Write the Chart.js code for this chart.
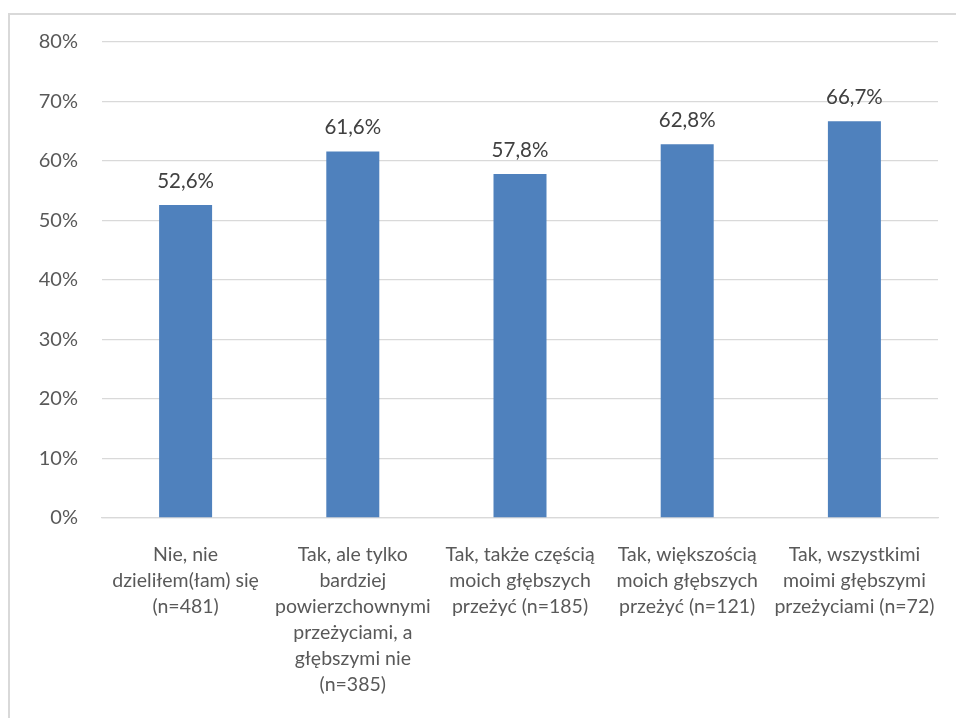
<!DOCTYPE html>
<html>
<head>
<meta charset="utf-8">
<script src="https://cdn.jsdelivr.net/npm/chart.js@4/dist/chart.umd.min.js"></script>
<style>
html,body{margin:0;padding:0;background:#fff;}
#wrap{position:relative;width:956px;height:718px;}
canvas{display:block;}
</style>
</head>
<body>
<div id="wrap"><canvas id="c" width="956" height="718"></canvas></div>
<script>
const categories = [
  ["Nie, nie", "dzieliłem(łam) się", "(n=481)"],
  ["Tak, ale tylko", "bardziej", "powierzchownymi", "przeżyciami, a", "głębszymi nie", "(n=385)"],
  ["Tak, także częścią", "moich głębszych", "przeżyć (n=185)"],
  ["Tak, większością", "moich głębszych", "przeżyć (n=121)"],
  ["Tak, wszystkimi", "moimi głębszymi", "przeżyciami (n=72)"]
];
const values = [52.6, 61.6, 57.8, 62.8, 66.7];
const yMin = 0, yMax = 80, yStep = 10;

const FONT = "Lato, 'Open Sans', sans-serif";
const TEXT = "#595959";

const borderPlugin = {
  id: 'frame',
  beforeDraw(chart) {
    const ctx = chart.ctx;
    ctx.save();
    ctx.fillStyle = '#fff';
    ctx.fillRect(0, 0, chart.width, chart.height);
    ctx.strokeStyle = '#d9d9d9';
    ctx.lineWidth = 2;
    ctx.strokeRect(9, 14, 1200, 1200);
    ctx.restore();
  }
};
const labelPlugin = {
  id: 'vals',
  afterDatasetsDraw(chart) {
    const ctx = chart.ctx;
    const meta = chart.getDatasetMeta(0);
    ctx.save();
    ctx.font = "20.5px " + FONT;
    ctx.fillStyle = "#404040";
    ctx.textAlign = 'center';
    ctx.textBaseline = 'middle';
    meta.data.forEach((bar, i) => {
      ctx.fillText(values[i].toFixed(1).replace('.', ',') + '%', bar.x, bar.y - 24);
    });
    ctx.restore();
  }
};

new Chart(document.getElementById('c'), {
  type: 'bar',
  data: {
    labels: categories,
    datasets: [{
      data: values,
      backgroundColor: '#4f81bd',
      borderWidth: 0,
      barPercentage: 0.317,
      categoryPercentage: 1
    }]
  },
  options: {
    responsive: false,
    animation: false,
    layout: { padding: { top: 42, right: 18, bottom: 0, left: 0 } },
    plugins: { legend: { display: false }, tooltip: { enabled: false } },
    scales: {
      y: {
        min: yMin, max: yMax,
        ticks: {
          stepSize: yStep,
          padding: 24,
          color: TEXT,
          font: { family: FONT, size: 20 },
          callback: v => v + '%'
        },
        grid: { color: '#d9d9d9', lineWidth: 1.3, drawTicks: false },
        border: { display: false },
        afterFit(s) { s.width = 102; s.paddingTop = 0; s.paddingBottom = 0; }
      },
      x: {
        ticks: {
          padding: 24,
          color: TEXT,
          maxRotation: 0,
          autoSkip: false,
          font: { family: FONT, size: 19.5, lineHeight: 1.333 }
        },
        grid: { display: false, drawTicks: false },
        border: { display: true, color: '#d9d9d9', width: 1.3 },
        afterFit(s) { s.height = 200; s.paddingLeft = 0; s.paddingRight = 0; }
      }
    }
  },
  plugins: [borderPlugin, labelPlugin]
});
</script>
</body>
</html>
